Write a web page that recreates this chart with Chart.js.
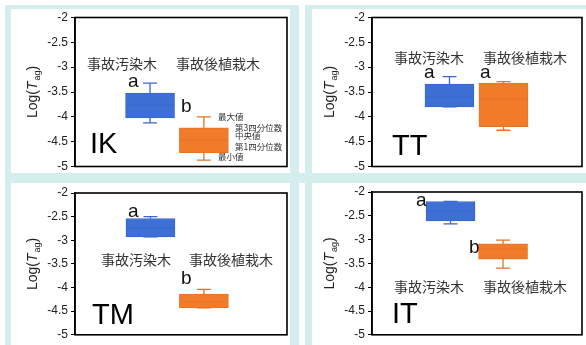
<!DOCTYPE html>
<html><head><meta charset="utf-8">
<script src="https://cdn.jsdelivr.net/npm/chart.js@4"></script>
<style>
html,body{margin:0;padding:0;background:#fff}
body{width:586px;height:345px;overflow:hidden;position:relative}
.p{position:absolute;box-sizing:border-box;background:#fff;border-style:solid;border-color:#d4eeee}
canvas{position:absolute;left:0;top:0}
</style></head><body>
<div class="p" style="left:5px;top:5px;width:294px;height:173px;border-width:4px 9px 5px 6px"></div>
<div class="p" style="left:305px;top:5px;width:300px;height:173px;border-width:4px 0 5px 7px"></div>
<div class="p" style="left:5px;top:178px;width:294px;height:190px;border-width:5px 9px 0 6px"></div>
<div class="p" style="left:305px;top:178px;width:300px;height:190px;border-width:5px 0 0 7px"></div>
<div style="position:absolute;left:299px;top:173px;width:6px;height:10px;background:#d4eeee"></div>
<script>
// ---- data ----
const categories = ['事故汚染木', '事故後植栽木'];
const panelNames = ['IK', 'TT', 'TM', 'IT'];
const yTicks = [-2, -2.5, -3, -3.5, -4, -4.5, -5];
// [min, q1, median, q3, max]
const ikPolluted = [-4.12, -4.02, -3.76, -3.52, -3.32];
const ikPlanted  = [-4.87, -4.72, -4.47, -4.22, -4.00];
const ttPolluted = [-3.80, -3.80, -3.60, -3.34, -3.19];
const ttPlanted  = [-4.27, -4.20, -3.64, -3.32, -3.29];
const tmPolluted = [-2.93, -2.93, -2.75, -2.54, -2.50];
const tmPlanted  = [-4.43, -4.43, -4.30, -4.14, -4.04];
const itPolluted = [-2.67, -2.61, -2.40, -2.20, -2.20];
const itPlanted  = [-3.60, -3.41, -3.20, -3.09, -3.01];
const ikLetters = ['a', 'b'];
const ttLetters = ['a', 'a'];
const tmLetters = ['a', 'b'];
const itLetters = ['a', 'b'];
const legendLabels = ['最大値', '第3四分位数', '中央値', '第1四分位数', '最小値'];

// ---- layout / style ----
const BLUE = '#3e6fd5', BLUE_B = '#3867cc', BLUE_M = '#2c56b0';
const ORANGE = '#f27b2a', ORANGE_B = '#e67326', ORANGE_M = '#cf5f18';
const AXW = 50;
const panels = [
  {name: panelNames[0], boxes: [ikPolluted, ikPlanted], letters: ikLetters,
   area: [75, 17.5, 287, 166.5], boxX: [0.354, 0.608], catX: [0.222, 0.675], catY: -2.92,
   letterPos: [[0.25, -3.40], [0.50, -3.90]], namePos: [0.071, -4.72],
   legendPos: [[0.675, -4.00], [0.755, -4.22], [0.755, -4.39], [0.755, -4.61], [0.675, -4.81]]},
  {name: panelNames[1], boxes: [ttPolluted, ttPlanted], letters: ttLetters,
   area: [372, 17.5, 582, 166.5], boxX: [0.369, 0.626], catX: [0.271, 0.729], catY: -2.80,
   letterPos: [[0.248, -3.22], [0.514, -3.22]], namePos: [0.095, -4.77]},
  {name: panelNames[2], boxes: [tmPolluted, tmPlanted], letters: tmLetters,
   area: [75, 193, 287, 341.5], boxX: [0.356, 0.608], catX: [0.288, 0.736], catY: -3.41,
   letterPos: [[0.25, -2.505], [0.50, -3.92]], namePos: [0.08, -4.77]},
  {name: panelNames[3], boxes: [itPolluted, itPlanted], letters: itLetters,
   area: [372, 192, 582, 340], boxX: [0.374, 0.624], catX: [0.271, 0.729], catY: -3.99,
   letterPos: [[0.21, -2.30], [0.462, -3.28]], namePos: [0.095, -4.76]}
];
const LATIN = '"Liberation Sans", Arial, sans-serif';
const CJK = '"Noto Sans CJK JP", "Noto Sans", sans-serif';

const boxPlugin = {
  id: 'boxPlugin',
  afterDatasetsDraw(chart) {
    const P = chart.options.plugins.boxPlugin.panel;
    const ctx = chart.ctx, xs = chart.scales.x, ys = chart.scales.y, ca = chart.chartArea;
    const meta = chart.getDatasetMeta(0);
    const lineCols = [BLUE_B, ORANGE_B], medCols = [BLUE_M, ORANGE_M];
    ctx.save();
    meta.data.forEach((el, i) => {
      const b = P.boxes[i];
      const x = el.x, half = el.width / 2, cap = 7;
      const yMin = ys.getPixelForValue(b[0]), yQ1 = ys.getPixelForValue(b[1]);
      const yMed = ys.getPixelForValue(b[2]), yQ3 = ys.getPixelForValue(b[3]);
      const yMax = ys.getPixelForValue(b[4]);
      ctx.strokeStyle = lineCols[i]; ctx.lineWidth = 1.3;
      ctx.beginPath();
      if (yMax < yQ3 - 0.5) { ctx.moveTo(x, yQ3); ctx.lineTo(x, yMax); }
      ctx.moveTo(x - cap, yMax); ctx.lineTo(x + cap, yMax);
      if (yMin > yQ1 + 0.5) { ctx.moveTo(x, yQ1); ctx.lineTo(x, yMin); }
      ctx.moveTo(x - cap, yMin); ctx.lineTo(x + cap, yMin);
      ctx.stroke();
      ctx.strokeStyle = medCols[i]; ctx.lineWidth = 0.8; ctx.globalAlpha = 0.35;
      ctx.beginPath(); ctx.moveTo(x - half + 1, yMed); ctx.lineTo(x + half - 1, yMed); ctx.stroke();
      ctx.globalAlpha = 1;
    });
    // frame
    ctx.strokeStyle = '#000'; ctx.lineWidth = 1.6;
    ctx.strokeRect(ca.left, ca.top, ca.right - ca.left, ca.bottom - ca.top);
    // y title Log(T_ag)
    ctx.save();
    ctx.translate(ca.left - 38, (ca.top + ca.bottom) / 2);
    ctx.rotate(-Math.PI / 2);
    ctx.fillStyle = '#222'; ctx.textBaseline = 'alphabetic';
    const f1 = '14px ' + LATIN, fi = 'italic 14px ' + LATIN, fs = '9px ' + LATIN;
    ctx.font = f1; const w1 = ctx.measureText('Log(').width, w4 = ctx.measureText(')').width;
    ctx.font = fi; const w2 = ctx.measureText('T').width;
    ctx.font = fs; const w3 = ctx.measureText('ag').width;
    let cx = -(w1 + w2 + w3 + w4 + 1) / 2;
    ctx.font = f1; ctx.fillText('Log(', cx, 0); cx += w1;
    ctx.font = fi; ctx.fillText('T', cx, 0); cx += w2 + 1;
    ctx.font = fs; ctx.fillText('ag', cx, 3); cx += w3;
    ctx.font = f1; ctx.fillText(')', cx, 0);
    ctx.restore();
    // category labels
    ctx.fillStyle = '#333'; ctx.font = '14px ' + CJK;
    ctx.textAlign = 'center'; ctx.textBaseline = 'middle';
    categories.forEach((c, i) => ctx.fillText(c, xs.getPixelForValue(P.catX[i]), ys.getPixelForValue(P.catY)));
    // significance letters
    ctx.fillStyle = '#111'; ctx.font = '19px ' + LATIN;
    ctx.textAlign = 'left'; ctx.textBaseline = 'alphabetic';
    P.letters.forEach((l, i) => ctx.fillText(l, xs.getPixelForValue(P.letterPos[i][0]), ys.getPixelForValue(P.letterPos[i][1])));
    // panel name
    ctx.fillStyle = '#000'; ctx.font = '29px ' + LATIN;
    ctx.fillText(P.name, xs.getPixelForValue(P.namePos[0]), ys.getPixelForValue(P.namePos[1]));
    // legend labels
    if (P.legendPos) {
      ctx.fillStyle = '#333'; ctx.font = '8.5px ' + CJK; ctx.textBaseline = 'middle';
      legendLabels.forEach((t, i) => ctx.fillText(t, xs.getPixelForValue(P.legendPos[i][0]), ys.getPixelForValue(P.legendPos[i][1])));
    }
    ctx.restore();
  }
};

panels.forEach(P => {
  const cv = document.createElement('canvas');
  cv.width = 586; cv.height = 345;
  cv.style.width = '586px'; cv.style.height = '345px';
  document.body.appendChild(cv);
  new Chart(cv.getContext('2d'), {
    type: 'bar',
    data: {
      datasets: [{
        data: P.boxes.map((b, i) => ({x: P.boxX[i], y: [b[1], b[3]]})),
        backgroundColor: [BLUE, ORANGE],
        borderColor: [BLUE_B, ORANGE_B],
        borderWidth: 1,
        borderSkipped: false,
        barThickness: 49
      }]
    },
    options: {
      responsive: false, animation: false, events: [],
      layout: {padding: {left: P.area[0] - AXW, top: P.area[1], right: 586 - P.area[2], bottom: 345 - P.area[3]}},
      plugins: {legend: {display: false}, tooltip: {enabled: false}, boxPlugin: {panel: P}},
      scales: {
        x: {type: 'linear', min: 0, max: 1, offset: false, display: false},
        y: {
          min: -5, max: -2,
          afterFit(s) { s.width = AXW; },
          afterBuildTicks(s) { s.ticks = yTicks.map(v => ({value: v})); },
          ticks: {font: {size: 12, family: LATIN}, color: '#222', padding: 3, callback: v => String(v)},
          grid: {drawOnChartArea: false, drawTicks: true, tickLength: 4, color: '#000', lineWidth: 1},
          border: {display: true, color: '#000', width: 1.6}
        }
      }
    },
    plugins: [boxPlugin]
  });
});
</script>
</body></html>
